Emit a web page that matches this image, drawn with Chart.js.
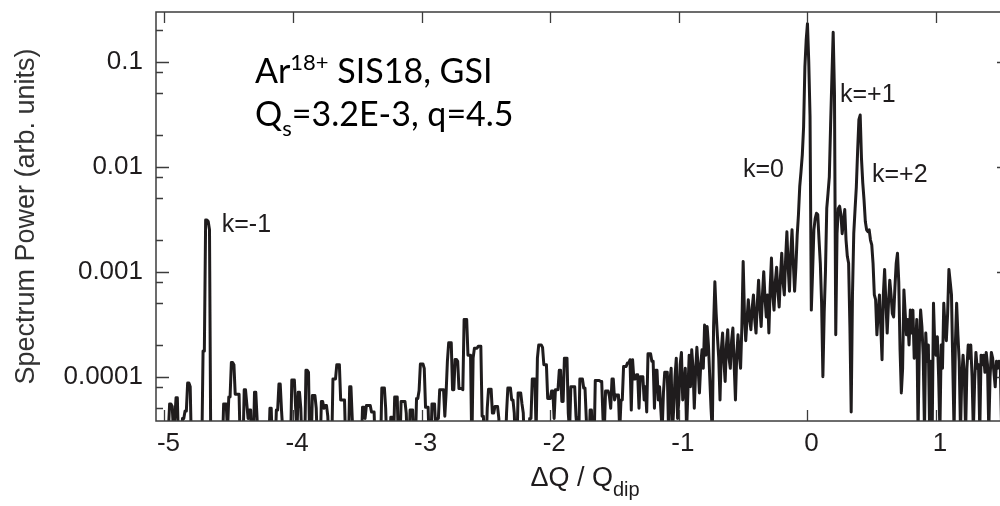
<!DOCTYPE html>
<html>
<head>
<meta charset="utf-8">
<title>Spectrum Power vs ΔQ / Qdip</title>
<script src="https://cdn.jsdelivr.net/npm/chart.js@4.4.1/dist/chart.umd.min.js"></script>
<style>
    html, body { margin: 0; padding: 0; background: #fff; overflow: hidden; }
    #wrap { position: relative; width: 1012px; height: 506px; }
</style>
</head>
<body>
<div id="wrap"><canvas id="spectrum"></canvas></div>
<script>
// --- DATA ---
// Bin centres run from DQ_START in steps of DQ_STEP (units of ΔQ / Q_dip)
const DQ_START = -5.06;
const DQ_STEP = 0.01;

// Spectrum power per bin (arb. units); values under the axis floor dip out of view
const power = [
    2e-5, 2e-5, 2e-5, 2e-5, 2e-5, 2e-5, 2e-5, 2e-5, 2e-5, 3e-5, 5.5e-5, 5.5e-5,
    5.2e-5, 3e-5, 4e-5, 6.3e-5, 6.3e-5, 2e-5, 2e-5, 2e-5, 4e-5, 4e-5, 4.7e-5, 4.7e-5,
    8.7e-5, 8.7e-5, 8e-5, 2e-5, 2e-5, 2e-5, 2e-5, 2e-5, 2e-5, 2e-5, 2e-5, 2e-5,
    1.75e-4, 1.75e-4, 3.1e-3, 3.1e-3, 3e-3, 2.5e-3, 2e-5, 2e-5, 2e-5, 2e-5, 2e-5, 2e-5,
    2e-5, 2e-5, 2e-5, 2e-5, 5.5e-5, 5.5e-5, 5.5e-5, 3e-5, 6.4e-5, 6.4e-5, 1.36e-4, 1.36e-4,
    1.3e-4, 6.8e-5, 6.8e-5, 6.8e-5, 6.8e-5, 2e-5, 2e-5, 2e-5, 7.5e-5, 7.5e-5, 5.5e-5, 4e-5,
    4.8e-5, 4.8e-5, 2e-5, 2e-5, 7.1e-5, 7.1e-5, 4e-5, 2e-5, 2e-5, 2e-5, 2e-5, 2e-5,
    2e-5, 2e-5, 2e-5, 2e-5, 5e-5, 5e-5, 2e-5, 2e-5, 2e-5, 4.8e-5, 4.8e-5, 8.5e-5,
    8.5e-5, 4.8e-5, 3e-5, 2e-5, 2e-5, 2e-5, 2e-5, 2e-5, 2e-5, 9.3e-5, 9.3e-5, 9.3e-5,
    5e-5, 3e-5, 7.1e-5, 7.1e-5, 5e-5, 2e-5, 2e-5, 2e-5, 1.15e-4, 1.15e-4, 1.1e-4, 2e-5,
    2e-5, 6.6e-5, 6.6e-5, 6.6e-5, 5e-5, 2e-5, 2e-5, 2e-5, 5.8e-5, 5.8e-5, 5e-5, 5.3e-5,
    5.3e-5, 4.2e-5, 2e-5, 2e-5, 2e-5, 9.5e-5, 9.5e-5, 9.5e-5, 1.3e-4, 1.3e-4, 1.3e-4, 6e-5,
    6e-5, 6e-5, 6e-5, 2e-5, 2e-5, 2e-5, 8e-5, 8e-5, 4e-5, 2e-5, 2e-5, 2e-5,
    2e-5, 2e-5, 2e-5, 2e-5, 5.1e-5, 5.1e-5, 4e-5, 5.3e-5, 5.3e-5, 5.3e-5, 5.3e-5, 4.6e-5,
    4.6e-5, 4.6e-5, 2e-5, 2e-5, 2e-5, 2e-5, 2e-5, 7.8e-5, 7.8e-5, 7.8e-5, 5e-5, 2e-5,
    2e-5, 2e-5, 4.1e-5, 4.1e-5, 2e-5, 6.4e-5, 6.4e-5, 6.4e-5, 2e-5, 2e-5, 5.8e-5, 5.8e-5,
    5.8e-5, 5.8e-5, 4.5e-5, 2e-5, 2e-5, 4.8e-5, 4.8e-5, 4.8e-5, 2e-5, 2e-5, 6.2e-5, 6.2e-5,
    7.4e-5, 1.32e-4, 1.32e-4, 1.32e-4, 1.2e-4, 5.1e-5, 5.1e-5, 5.1e-5, 2e-5, 2e-5, 5.5e-5, 5.5e-5,
    5.5e-5, 3e-5, 4e-5, 4e-5, 7.5e-5, 7.5e-5, 7.5e-5, 7.5e-5, 4.2e-5, 7e-5, 1.4e-4, 2.1e-4,
    2.1e-4, 2.1e-4, 7.5e-5, 7.5e-5, 1.46e-4, 1.46e-4, 1.4e-4, 7.7e-5, 7.7e-5, 7.7e-5, 7.5e-5, 3.5e-4,
    3.5e-4, 3.5e-4, 1.6e-4, 1.6e-4, 1.6e-4, 2e-5, 1.5e-4, 1.86e-4, 1.86e-4, 1.86e-4, 1.95e-4, 1.95e-4,
    1.95e-4, 4.2e-5, 4.2e-5, 2e-5, 2e-5, 5e-5, 7.6e-5, 7.6e-5, 7.6e-5, 4.5e-5, 4.5e-5, 5.2e-5,
    5.2e-5, 5.2e-5, 4e-5, 2e-5, 2e-5, 2e-5, 2e-5, 2e-5, 4.5e-5, 7.8e-5, 7.8e-5, 7.8e-5,
    6e-5, 6e-5, 4.5e-5, 2e-5, 2e-5, 7e-5, 7e-5, 7e-5, 5.5e-5, 4.5e-5, 2e-5, 2e-5,
    2e-5, 2e-5, 4e-5, 4e-5, 9.5e-5, 9.5e-5, 9.5e-5, 3e-5, 1.5e-4, 2e-4, 2e-4, 2e-4,
    1.9e-4, 1.3e-4, 1.3e-4, 1.3e-4, 6.2e-5, 6.2e-5, 6.2e-5, 7.3e-5, 7.3e-5, 4e-5, 7.5e-5, 7.5e-5,
    7.5e-5, 1.15e-4, 1.15e-4, 5.8e-5, 5.8e-5, 1.5e-4, 1.5e-4, 1.5e-4, 4.5e-5, 3e-5, 8e-5, 8e-5,
    8e-5, 8e-5, 4.2e-5, 3e-5, 2e-5, 9.5e-5, 9.5e-5, 9.5e-5, 7.8e-5, 7.8e-5, 4e-5, 2e-5,
    2e-5, 4.8e-5, 4.8e-5, 2e-5, 2e-5, 9.2e-5, 9.2e-5, 9.2e-5, 9.2e-5, 9e-5, 9e-5, 4e-5,
    3e-5, 7.3e-5, 7.3e-5, 7.3e-5, 6.5e-5, 5e-5, 9.5e-5, 9.5e-5, 6e-5, 6.7e-5, 6.7e-5, 6.7e-5,
    3e-5, 6e-5, 6e-5, 1.25e-4, 1.25e-4, 1.25e-4, 1.35e-4, 1.35e-4, 1.45e-4, 4.8e-5, 1.45e-4, 9.5e-5,
    9.5e-5, 1.04e-4, 1.04e-4, 5e-5, 1e-4, 1e-4, 1e-4, 6e-5, 8e-5, 4.6e-5, 1.65e-4, 1.65e-4,
    1.65e-4, 1.4e-4, 1.4e-4, 5e-5, 1.15e-4, 1.15e-4, 6e-5, 8e-5, 4.8e-5, 3e-5, 7e-5, 1.1e-4,
    1.1e-4, 1.1e-4, 3e-5, 9e-5, 1.2e-4, 3e-5, 5e-5, 1e-4, 1.5e-4, 4e-5, 6e-5, 1.3e-4,
    1.7e-4, 6e-5, 8e-5, 1.2e-4, 3e-5, 7e-5, 1.6e-4, 8e-5, 1.8e-4, 1.2e-4, 5e-5, 1.1e-4,
    1.9e-4, 1.2e-4, 7e-5, 1.3e-4, 1.8e-4, 1.2e-4, 3.1e-4, 1.6e-4, 3e-4, 2e-4, 1e-4, 5e-5,
    3e-5, 3e-4, 8e-4, 4e-4, 2.4e-4, 1.5e-4, 6e-5, 1.8e-4, 2.6e-4, 1.4e-4, 9e-5, 2e-4,
    2.8e-4, 1.5e-4, 1.2e-4, 2.2e-4, 2.9e-4, 1.3e-4, 6e-5, 1.6e-4, 2.5e-4, 1.6e-4, 1.2e-4, 3e-4,
    1.25e-3, 4e-4, 2.2e-4, 3.5e-4, 5.4e-4, 3.6e-4, 2.8e-4, 4.5e-4, 6e-4, 3.5e-4, 2.6e-4, 5e-4,
    8.3e-4, 4.5e-4, 3e-4, 6e-4, 1e-3, 5.5e-4, 3.7e-4, 6e-4, 2.6e-4, 7e-4, 1.35e-3, 6e-4,
    4.3e-4, 8e-4, 1.1e-3, 6.5e-4, 4.6e-4, 9e-4, 1.5e-3, 8e-4, 6e-4, 1.3e-3, 2.4e-3, 1.1e-3,
    6.5e-4, 1.5e-3, 2.5e-3, 1.2e-3, 6.5e-4, 1.1e-3, 2.2e-3, 3.5e-3, 6.5e-3, 9e-3, 1.3e-2, 2.4e-2,
    8.9e-2, 0.16, 0.23, 0.1, 0.03, 4.3e-4, 1e-3, 2.5e-3, 3.2e-3, 3.6e-3, 3.5e-3, 2e-3,
    1.2e-3, 5e-4, 1e-4, 4e-4, 1e-3, 4e-3, 5.6e-3, 8e-3, 2.5e-2, 7e-2, 0.19, 0.05,
    2.5e-4, 2.3e-3, 4e-3, 4.2e-3, 3.5e-3, 2.3e-3, 3e-3, 3.9e-3, 2e-3, 1.4e-3, 1.2e-3, 3e-4,
    4.6e-5, 6e-4, 2.3e-3, 3.9e-3, 6.4e-3, 1.4e-2, 0.028, 0.031, 1.2e-2, 7e-3, 4.8e-3, 3e-3,
    2.5e-3, 2.4e-3, 2.5e-3, 2e-3, 1.8e-3, 1.2e-3, 6e-4, 5.4e-4, 2.5e-4, 4e-4, 6e-4, 3e-4,
    1.45e-4, 6e-4, 1.05e-3, 5e-4, 2.6e-4, 5e-4, 8.3e-4, 6e-4, 4e-4, 3.7e-4, 7e-4, 1.2e-3,
    1.5e-3, 8e-4, 1.8e-4, 7e-5, 1.2e-4, 6.7e-4, 4e-4, 2.5e-4, 3.5e-4, 2e-4, 4.3e-4, 2.6e-4,
    4.3e-4, 1.5e-4, 1.8e-4, 3.5e-4, 3e-5, 2e-4, 4.3e-4, 3e-4, 1.6e-4, 3e-5, 2.6e-4, 1.4e-4,
    2e-4, 3e-5, 1.4e-4, 3e-5, 5e-4, 2e-4, 1.6e-4, 2.4e-4, 1e-4, 3e-5, 2e-4, 1.2e-4,
    5e-4, 3e-4, 2.2e-4, 4e-4, 1.05e-3, 8e-4, 6e-4, 1.3e-4, 3e-5, 2e-4, 5e-4, 2.5e-4,
    1.4e-4, 3e-5, 1e-4, 1.6e-4, 1e-4, 3e-5, 1.2e-4, 2e-4, 1.5e-4, 2e-4, 1e-4, 3e-5,
    9e-5, 1.7e-4, 1.2e-4, 1.3e-4, 3e-5, 1.6e-4, 1.3e-4, 1.6e-4, 1.1e-4, 1.7e-4, 1.3e-4, 3e-5,
    1e-4, 1.7e-4, 1.5e-4, 1.1e-4, 8e-5, 1.4e-4, 1.2e-4, 1.4e-4, 1.2e-4, 3e-5, 3e-5, 1.5e-4,
    1.5e-4, 8e-5, 8e-5, 1.3e-4, 1.3e-4
];

const xTicks = [-5, -4, -3, -2, -1, 0, 1];
const yTicks = [0.0001, 0.001, 0.01, 0.1];
const yTickLabels = ['0.0001', '0.001', '0.01', '0.1'];
const yMinorTicks = [0.2, 0.08, 0.05, 0.02, 0.008, 0.005, 0.002, 0.0008, 0.0005, 0.0002, 0.00008, 0.00005];

// sideband labels, anchored at the left end of their baseline
const peakLabels = ['k=-1', 'k=0', 'k=+1', 'k=+2'];
const peakLabelX = [-4.555, -0.502, 0.253, 0.502];
const peakLabelY = [0.0024, 0.008, 0.0413, 0.00715];

const X_MIN = -5.066, X_MAX = 1.575;
const Y_MIN = 3.78e-5, Y_MAX = 0.297;

const dq = power.map((_, i) => +(DQ_START + i * DQ_STEP).toFixed(2));

const INK = '#1f1c1d';
const SANS = "'Liberation Sans', Arial, Helvetica, sans-serif";
const NOTE_FONT = "Lato, 'Open Sans', sans-serif";

// writes a row of text pieces of differing size / vertical shift, left to right
function drawRuns(ctx, x, y, runs) {
    let cx = x;
    runs.forEach(r => {
        ctx.font = `${r.size}px ${r.family}`;
        ctx.fillText(r.text, cx, y + (r.dy || 0));
        cx += ctx.measureText(r.text).width;
    });
    return cx - x;
}

function runsWidth(ctx, runs) {
    let w = 0;
    runs.forEach(r => {
        ctx.font = `${r.size}px ${r.family}`;
        w += ctx.measureText(r.text).width;
    });
    return w;
}

// frame, inward tick marks and text overlays
const framePlugin = {
    id: 'frameAndNotes',
    afterDatasetsDraw(chart) {
        const { ctx, chartArea: a, scales: { x, y } } = chart;
        ctx.save();

        ctx.strokeStyle = '#3c3c3c';
        ctx.lineWidth = 1.5;
        ctx.strokeRect(a.left, a.top, a.right - a.left, a.bottom - a.top);

        ctx.lineWidth = 1.3;
        ctx.beginPath();
        xTicks.forEach(v => {
            const px = Math.round(x.getPixelForValue(v)) + 0.5;
            ctx.moveTo(px, a.bottom); ctx.lineTo(px, a.bottom - 11);
            ctx.moveTo(px, a.top); ctx.lineTo(px, a.top + 11);
        });
        yTicks.forEach(v => {
            const py = Math.round(y.getPixelForValue(v)) + 0.5;
            ctx.moveTo(a.left, py); ctx.lineTo(a.left + 13, py);
            ctx.moveTo(a.right, py); ctx.lineTo(a.right - 13, py);
        });
        yMinorTicks.forEach(v => {
            const py = Math.round(y.getPixelForValue(v)) + 0.5;
            ctx.moveTo(a.left, py); ctx.lineTo(a.left + 7, py);
        });
        ctx.stroke();

        // k sideband labels
        ctx.fillStyle = INK;
        ctx.textBaseline = 'alphabetic';
        ctx.textAlign = 'left';
        ctx.font = `25px ${SANS}`;
        peakLabels.forEach((t, i) => {
            ctx.fillText(t, x.getPixelForValue(peakLabelX[i]), y.getPixelForValue(peakLabelY[i]));
        });

        // beam / machine note
        ctx.fillStyle = '#000';
        const noteX = x.getPixelForValue(-4.296);
        drawRuns(ctx, noteX, y.getPixelForValue(0.0626), [
            { text: 'Ar', size: 34, family: NOTE_FONT },
            { text: '18+', size: 22, family: NOTE_FONT, dy: -13 },
            { text: ' SIS18, GSI', size: 34, family: NOTE_FONT }
        ]);
        drawRuns(ctx, noteX, y.getPixelForValue(0.0244), [
            { text: 'Q', size: 34, family: NOTE_FONT },
            { text: 's', size: 22, family: NOTE_FONT, dy: 10 },
            { text: '=3.2E-3, q=4.5', size: 34, family: NOTE_FONT }
        ]);

        // x axis title with subscript
        ctx.fillStyle = INK;
        const titleRuns = [
            { text: 'ΔQ / Q', size: 27, family: SANS },
            { text: 'dip', size: 20, family: SANS, dy: 10 }
        ];
        const tw = runsWidth(ctx, titleRuns);
        const cx = (a.left + a.right) / 2 + 2;
        drawRuns(ctx, cx - tw / 2, 486, titleRuns);

        ctx.restore();
    }
};

const ctx = document.getElementById('spectrum').getContext('2d');
new Chart(ctx, {
    type: 'line',
    data: {
        datasets: [{
            data: dq.map((v, i) => ({ x: v, y: power[i] })),
            borderColor: INK,
            borderWidth: 3,
            pointRadius: 0,
            tension: 0,
            borderJoinStyle: 'round',
            clip: 0
        }]
    },
    options: {
        responsive: true,
        maintainAspectRatio: false,
        animation: false,
        layout: { padding: { left: 0, top: 12, right: 2, bottom: 0 } },
        plugins: {
            legend: { display: false },
            tooltip: { enabled: false }
        },
        scales: {
            x: {
                type: 'linear',
                min: X_MIN,
                max: X_MAX,
                afterBuildTicks: s => { s.ticks = xTicks.map(v => ({ value: v })); },
                afterFit: s => {
                    s.height = 85;
                    s.paddingLeft = 0;
                    s.paddingRight = 0;
                },
                grid: { display: false, drawTicks: false },
                border: { display: false },
                ticks: {
                    font: { family: SANS, size: 26 },
                    color: INK,
                    padding: 7,
                    labelOffset: 4,
                    maxRotation: 0,
                    autoSkip: false,
                    callback: v => String(v)
                }
            },
            y: {
                type: 'logarithmic',
                min: Y_MIN,
                max: Y_MAX,
                afterBuildTicks: s => { s.ticks = yTicks.map(v => ({ value: v })); },
                afterFit: s => {
                    s.width = 156;
                    s.paddingTop = 0;
                    s.paddingBottom = 0;
                },
                grid: { display: false, drawTicks: false },
                border: { display: false },
                ticks: {
                    font: { family: SANS, size: 26 },
                    color: INK,
                    padding: 13,
                    autoSkip: false,
                    callback: v => yTickLabels[yTicks.indexOf(v)]
                },
                title: {
                    display: true,
                    text: 'Spectrum Power (arb. units)',
                    font: { family: SANS, size: 27 },
                    color: '#333',
                    padding: { top: 10, bottom: 0 }
                }
            }
        }
    },
    plugins: [framePlugin]
});
</script>
</body>
</html>
